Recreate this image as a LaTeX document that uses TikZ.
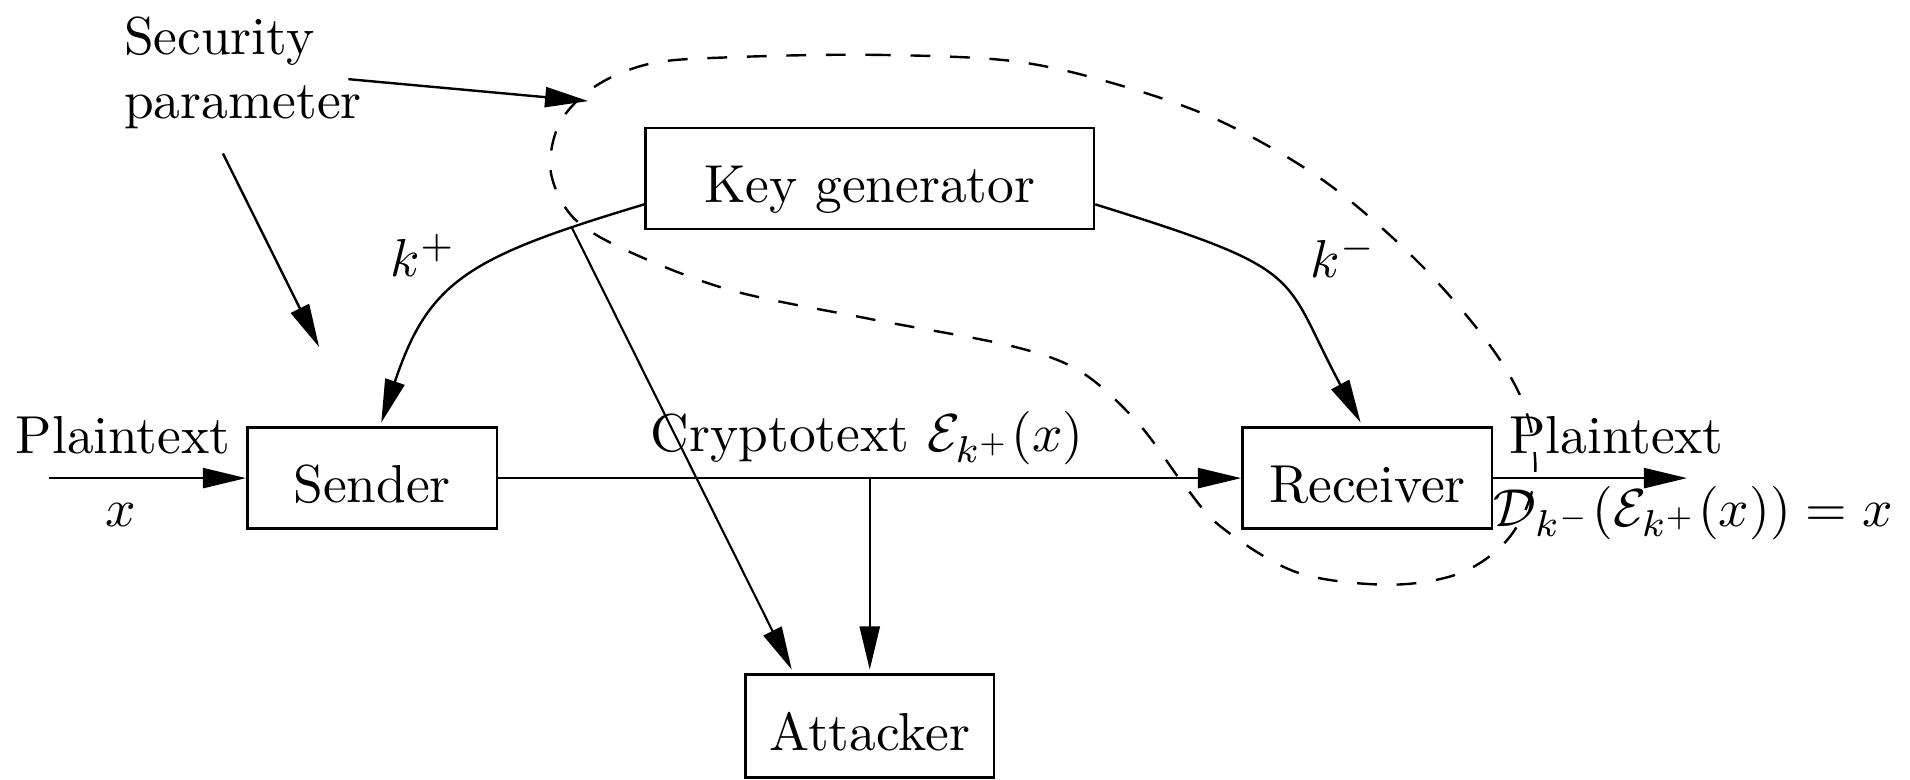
\documentclass[tikz,border=0pt]{standalone}
\usetikzlibrary{arrows.meta,calc}
\begin{document}
\begin{tikzpicture}[x=0.228pt,y=-0.228pt,
  box/.style={draw,line width=0.5pt,minimum height=18.9pt,inner sep=0pt,text height=9.1pt,text depth=0pt},
  lbl/.style={inner sep=0pt},
  arr/.style={-{Triangle[length=8.1pt,width=3.75pt]},line width=0.45pt},
  thinline/.style={line width=0.4pt},
  dashline/.style={line width=0.45pt,dash pattern=on 3.7pt off 3.7pt}]
\useasboundingbox (0,0) rectangle (1568,640);
% boxes
\node[box,minimum width=83.9pt] (kg) at (714,146.5) {Key generator};
\node[box,minimum width=46.7pt] (snd) at (305.5,392.5) {Sender};
\node[box,minimum width=46.7pt] (rcv) at (1122.5,392.5) {Receiver};
\node[box,minimum width=46.5pt,minimum height=19.2pt] (att) at (714,596) {Attacker};
% labels
\node[lbl,anchor=base west] (sec1) at (101,45) {Security};
\node[lbl,anchor=base west] (sec2) at (101,97) {parameter};
\node[lbl,anchor=base] (ptl) at (101,372) {Plaintext};
\node[lbl,anchor=base] (xl) at (99,432) {$x$};
\node[lbl,anchor=base] (ct) at (712,371) {Cryptotext $\mathcal{E}_{k^+}(x)$};
\node[lbl,anchor=base] (ptr) at (1327,372) {Plaintext};
\node[lbl,anchor=base] (dec) at (1390,432) {$\mathcal{D}_{k^-}(\mathcal{E}_{k^+}(x))=x$};
\node[lbl,anchor=base west] (kp) at (320,227) {$k^+$};
\node[lbl,anchor=base west] (km) at (1075,228) {$k^-$};
% coordinates
\coordinate (s1) at (286,65);
\coordinate (s1e) at (483,83);
\coordinate (s2) at (183,126);
\coordinate (s2e) at (262,285);
\coordinate (pin) at (40,392.5);
\coordinate (pout) at (1385,392.5);
\coordinate (br) at (714,392.5);
\coordinate (tap) at (469,186);
\coordinate (kgl) at ($(kg.south west)!0.25!(kg.north west)$);
\coordinate (kgr) at ($(kg.south east)!0.25!(kg.north east)$);
% dashed region
\draw[dashline] plot[smooth cycle,tension=0.55] coordinates {
 (600,47) (715,45) (830,50) (916,69) (1003,100) (1089,150) (1164,215)
 (1222,282) (1252,335) (1260,392) (1240,440) (1200,470) (1141,480)
 (1065,470) (1003,433) (972,398) (934,347) (887,305) (830,284)
 (715,262) (599,238) (513,205) (470,178) (452,140) (460,100) (490,70) (535,52)};
% connectors
\draw[arr] (s1) -- (s1e);
\draw[arr] (s2) -- (s2e);
\draw[arr] (pin) -- (snd.west);
\draw[arr] (snd.east) -- (rcv.west);
\draw[arr] (rcv.east) -- (pout);
\draw[arr] (br) -- ($(att.north)+(0,-3)$);
\draw[arr] (kgl) .. controls (385,211) and (352,230) .. ($(snd.north)+(7.5,-3)$);
\draw[arr] (kgr) .. controls (1077,223) and (1051,224) .. ($(rcv.north)+(-5.5,-3)$);
\draw[arr,thinline] (tap) -- ($(att.north)+(-64,-3)$);
\end{tikzpicture}
\end{document}
